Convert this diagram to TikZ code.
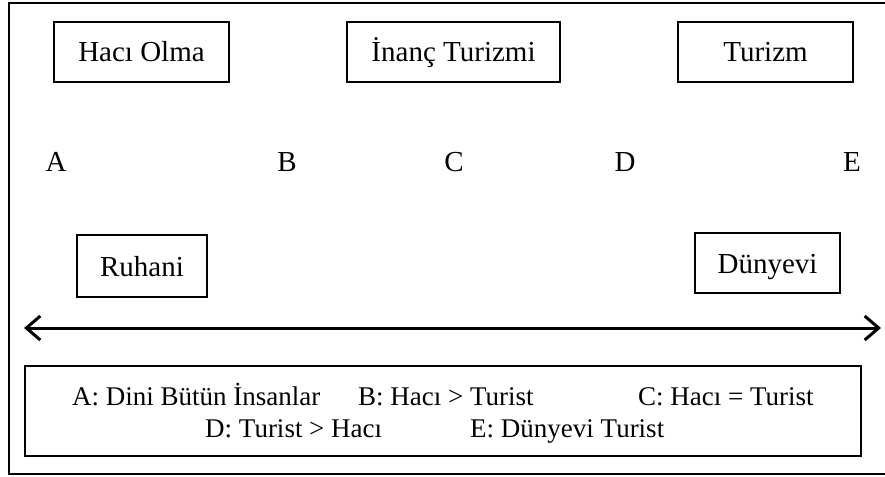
\documentclass[tikz,border=0pt]{standalone}
\usepackage{fontspec}
\setmainfont{Liberation Serif}
\usetikzlibrary{arrows.meta}
\newcommand{\boxwidth}{2.2pt}
\newcommand{\framewidth}{2.6pt}
\newcommand{\bigsize}{\fontsize{29}{34}\selectfont}
\newcommand{\smallsize}{\fontsize{27}{32}\selectfont}
\tikzset{
  termbox/.style={draw, line width=\boxwidth, inner sep=0pt, text height=20pt, text depth=0pt, font=\bigsize},
  pointlabel/.style={anchor=base, inner sep=0pt, font=\bigsize},
  legenditem/.style={anchor=base west, inner sep=0pt, font=\smallsize},
}
\begin{document}
\begin{tikzpicture}[x=1pt, y=-1pt, >={Straight Barb[length=14pt, width=24pt, line width=3pt]}]
        \useasboundingbox (0, 0) rectangle (885, 476);

        % outer frame (open on the right)
        \coordinate (frameTR) at (885, 3);
        \coordinate (frameTL) at (9, 3);
        \coordinate (frameBL) at (9, 474);
        \coordinate (frameBR) at (885, 474);
        \draw[line width=\framewidth] (frameTR) -- (frameTL) -- (frameBL) -- (frameBR);

        % top boxes
        \node[termbox, minimum width=175, minimum height=60] (haci) at (141.5, 52) {Hacı Olma};
        \node[termbox, minimum width=213, minimum height=60] (inanc) at (453.5, 52) {İnanç Turizmi};
        \node[termbox, minimum width=175, minimum height=60] (turizm) at (765.5, 52) {Turizm};

        % scale points
        \node[pointlabel] (ptA) at (56, 171) {A};
        \node[pointlabel] (ptB) at (287, 171) {B};
        \node[pointlabel] (ptC) at (454, 171) {C};
        \node[pointlabel] (ptD) at (625, 171) {D};
        \node[pointlabel] (ptE) at (852, 171) {E};

        % bottom boxes
        \node[termbox, minimum width=130, minimum height=62] (ruhani) at (142, 266) {Ruhani};
        \node[termbox, minimum width=145, minimum height=60] (dunyevi) at (767.5, 263) {Dünyevi};

        % axis
        \coordinate (axisL) at (24, 328);
        \coordinate (axisR) at (881, 328);
        \draw[<->, line width=3pt] (axisL) -- (axisR);

        % legend
        \node[termbox, minimum width=836, minimum height=90] (legend) at (443, 411) {};
        \node[legenditem] (legA) at (72, 405) {A: Dini Bütün İnsanlar};
        \node[legenditem] (legB) at (358, 405) {B: Hacı > Turist};
        \node[legenditem] (legC) at (638, 405) {C: Hacı = Turist};
        \node[legenditem] (legD) at (205, 437) {D: Turist > Hacı};
        \node[legenditem] (legE) at (470, 437) {E: Dünyevi Turist};
    \end{tikzpicture}
\end{document}
